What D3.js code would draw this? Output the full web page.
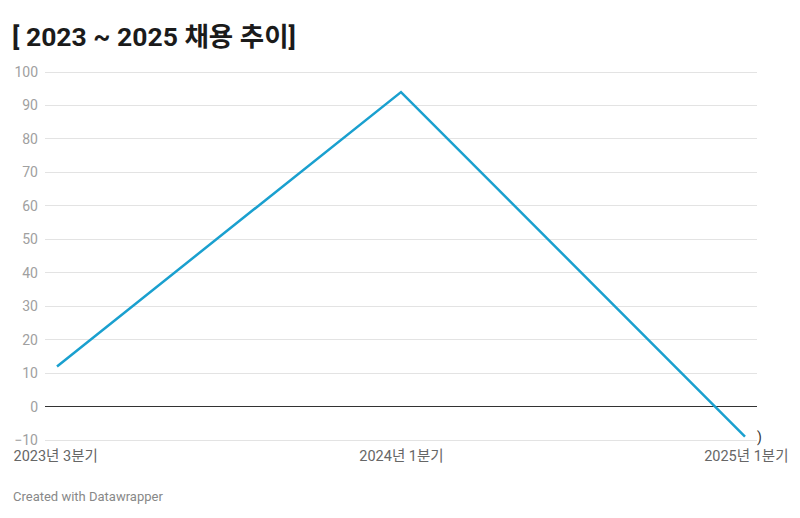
<!DOCTYPE html>
<html><head><meta charset="utf-8">
<script src="https://cdn.jsdelivr.net/npm/d3@7"></script>
<style>
body{margin:0;background:#fff;font-family:Roboto,"Noto Sans CJK KR",sans-serif;}
</style></head>
<body><svg id="c" width="800" height="518"></svg>
<script>
const categories = ["2023년 3분기", "2024년 1분기", "2025년 1분기"];
const values = [12, 94, -9];
const yTicks = [-10, 0, 10, 20, 30, 40, 50, 60, 70, 80, 90, 100];
const title = "[ 2023 ~ 2025 채용 추이]";
const footer = "Created with Datawrapper";

const svg = d3.select("#c");
const font = 'Roboto,"Noto Sans CJK KR",sans-serif';
const x = d3.scalePoint().domain(categories).range([57, 745]);
const y = d3.scaleLinear().domain([-10, 100]).range([440, 72]);

svg.append("text").attr("x", 12).attr("y", 46).attr("font-family", font)
  .attr("font-size", 26.5).attr("font-weight", 700).attr("fill", "#1b1b1b").text(title);

const gy = svg.append("g").attr("transform", "translate(45,0)")
  .call(d3.axisLeft(y).tickValues(yTicks).tickSize(0).tickPadding(7).tickFormat(d => d < 0 ? "−" + Math.abs(d) : d));
gy.select(".domain").remove();
gy.selectAll("text").attr("font-family", font).attr("font-size", 14).attr("fill", "#a0a0a0");

svg.append("g").selectAll("line").data(yTicks).join("line")
  .attr("x1", 45).attr("x2", 757).attr("y1", d => y(d)).attr("y2", d => y(d))
  .attr("stroke", d => d === 0 ? "#333" : "#e3e3e3").attr("stroke-width", 1)
  .attr("shape-rendering", "crispEdges");

const gx = svg.append("g").attr("transform", "translate(0,443)")
  .call(d3.axisBottom(x).tickSize(0).tickPadding(8));
gx.select(".domain").remove();
gx.selectAll("text").attr("font-family", font).attr("font-size", 14.5).attr("fill", "#666")
  .attr("text-anchor", (d, i) => i === 0 ? "start" : i === categories.length - 1 ? "end" : "middle")
  .attr("dx", (d, i) => i === 0 ? -44 : i === categories.length - 1 ? 43 : 0);

svg.append("path").datum(values)
  .attr("d", d3.line().x((d, i) => x(categories[i])).y(d => y(d)))
  .attr("fill", "none").attr("stroke", "#1aa0cf").attr("stroke-width", 2.5);

svg.append("text").attr("x", x(categories[2]) + 12).attr("y", y(values[2]) + 5)
  .attr("font-family", font).attr("font-size", 14).attr("fill", "#333").text(")");

svg.append("text").attr("x", 13).attr("y", 501).attr("font-family", font)
  .attr("font-size", 13).attr("fill", "#888").text(footer);
</script></body></html>
